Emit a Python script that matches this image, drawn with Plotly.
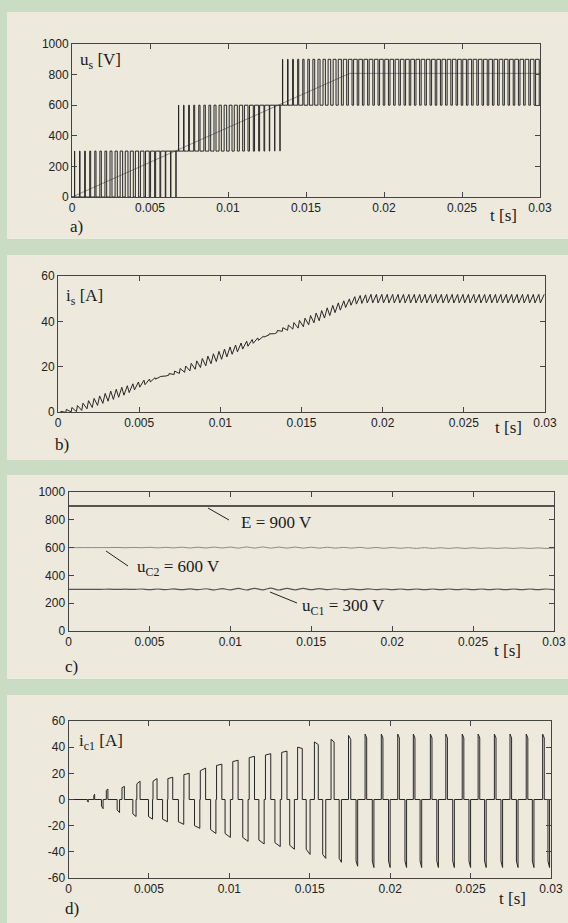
import plotly.graph_objects as go

W, H = 568, 923

# ---------------- data ----------------
tick_t = [0, 0.005, 0.01, 0.015, 0.02, 0.025, 0.03]
tick_t_text = ["0", "0.005", "0.01", "0.015", "0.02", "0.025", "0.03"]

# a) output voltage u_s : 3 kHz PWM, band limits and duty per period
us_period = 1 / 3000
us_band_start = [0, 20, 40]          # first period index of each band
us_band_low = [0, 300, 600]          # lower level of each band [V]
us_step = 300
us_duty = [0.03, 0.08, 0.13, 0.18, 0.23, 0.28, 0.33, 0.38, 0.43, 0.48,
           0.53, 0.58, 0.63, 0.68, 0.73, 0.78, 0.83, 0.88, 0.94, 0.99,
           0.04, 0.09, 0.14, 0.19, 0.24, 0.29, 0.34, 0.39, 0.44, 0.49,
           0.54, 0.59, 0.64, 0.69, 0.74, 0.79, 0.84, 0.89, 0.95, 1.00,
           0.05, 0.10, 0.15, 0.20, 0.25, 0.30, 0.35, 0.40, 0.45, 0.50,
           0.55, 0.60, 0.65, 0.70, 0.70, 0.70, 0.70, 0.70, 0.70, 0.70,
           0.70, 0.70, 0.70, 0.70, 0.70, 0.70, 0.70, 0.70, 0.70, 0.70,
           0.70, 0.70, 0.70, 0.70, 0.70, 0.70, 0.70, 0.70, 0.70, 0.70,
           0.70, 0.70, 0.70, 0.70, 0.70, 0.70, 0.70, 0.70, 0.70, 0.70]
us_ref_t = [0, 0.0178, 0.03]
us_ref_v = [0, 808, 808]

# b) current i_s : mean value and ripple (peak-peak) per PWM period [A]
is_mean = [0.0, 0.5, 1.0, 1.5, 2.3, 3.2, 4.0, 5.0, 6.0, 7.0,
           7.8, 8.7, 9.5, 10.5, 11.5, 12.5, 13.3, 14.2, 15.0, 15.8,
           16.6, 17.3, 18.1, 18.9, 19.8, 20.7, 21.6, 22.5, 23.5, 24.5,
           25.5, 26.5, 27.5, 28.5, 29.5, 30.5, 31.5, 32.5, 33.5, 34.5,
           35.5, 36.4, 37.2, 38.0, 38.7, 39.5, 40.5, 41.5, 42.5, 43.7,
           44.8, 46.0, 47.0, 48.0, 49.0, 49.5, 49.8, 50.0, 50.0, 50.0,
           50.0, 50.0, 50.0, 50.0, 50.0, 50.0, 50.0, 50.0, 50.0, 50.0,
           50.0, 50.0, 50.0, 50.0, 50.0, 50.0, 50.0, 50.0, 50.0, 50.0,
           50.0, 50.0, 50.0, 50.0, 50.0, 50.0, 50.0, 50.0, 50.0, 50.0]
is_ripple = [0.5, 1.3, 2.0, 2.7, 3.2, 3.6, 4.0, 4.2, 4.4, 4.5,
             4.5, 4.4, 4.2, 3.9, 3.5, 3.1, 2.5, 1.9, 1.0, 0.2,
             0.7, 1.5, 2.2, 2.8, 3.3, 3.7, 4.0, 4.3, 4.4, 4.5,
             4.5, 4.4, 4.1, 3.9, 3.5, 3.0, 2.4, 1.8, 0.9, 0.1,
             0.9, 1.6, 2.3, 2.9, 3.4, 3.8, 4.1, 4.3, 4.5, 4.5,
             4.5, 4.3, 4.1, 3.8, 3.8, 3.8, 3.8, 3.8, 3.8, 3.8,
             3.8, 3.8, 3.8, 3.8, 3.8, 3.8, 3.8, 3.8, 3.8, 3.8,
             3.8, 3.8, 3.8, 3.8, 3.8, 3.8, 3.8, 3.8, 3.8, 3.8,
             3.8, 3.8, 3.8, 3.8, 3.8, 3.8, 3.8, 3.8, 3.8, 3.8]

# c) capacitor voltages, sampled every 0.5 ms [V]
uc_t_step = 0.0005
E_t = [0, 0.03]
E_v = [900, 900]
uC2 = [600, 600, 600, 600, 600, 600, 601, 599, 601, 599,
       602, 598, 602, 598, 603, 597, 603, 597, 604, 597,
       604, 596, 605, 596, 605, 596, 604, 596, 604, 596,
       603, 596, 603, 596, 602, 596, 602, 595, 601, 595,
       601, 595, 600, 594, 600, 594, 599, 594, 599, 594,
       599, 594, 598, 594, 598, 594, 598, 594, 598, 594, 597]
uC1 = [300, 300, 300, 300, 300, 301, 299, 301, 299, 302,
       298, 302, 298, 303, 297, 303, 297, 304, 296, 305,
       296, 306, 295, 307, 296, 308, 295, 307, 296, 306,
       297, 305, 297, 304, 297, 303, 297, 303, 298, 302,
       298, 302, 298, 302, 298, 302, 298, 302, 298, 302,
       298, 302, 298, 302, 298, 302, 298, 302, 298, 302, 298]

# d) capacitor current i_c1 : pulses (centre [ms], width [ms], level [A])
ic1_pos_c = [1.6, 2.4, 3.4, 4.35, 5.38, 6.33, 7.34, 8.36, 9.37, 10.38,
             11.40, 12.41, 13.42, 14.39, 15.41, 16.42, 17.48, 18.49, 19.50, 20.52,
             21.49, 22.55, 23.51, 24.53, 25.52, 26.53, 27.50, 28.51, 29.53]
ic1_pos_w = [0.05, 0.10, 0.15, 0.20, 0.25, 0.30, 0.33, 0.33, 0.33, 0.33,
             0.33, 0.33, 0.33, 0.29, 0.24, 0.19, 0.14, 0.10, 0.10, 0.10,
             0.10, 0.10, 0.10, 0.10, 0.10, 0.10, 0.10, 0.10, 0.10]
ic1_pos_a0 = [3, 7, 9, 12, 14, 16, 19, 22, 26, 29,
              32, 34, 36, 40, 44, 46, 49, 50, 50, 50,
              50, 50, 50, 50, 50, 50, 50, 50, 50]
ic1_pos_a1 = [4, 8, 10, 14, 16, 17, 20, 24, 27, 30,
              33, 35, 37, 39, 42, 44, 46, 47, 47, 47,
              47, 47, 47, 47, 47, 47, 47, 47, 47]
ic1_neg_c = [1.2, 2.1, 3.1, 4.1, 5.1, 6.0, 7.0, 8.0, 9.0, 9.9,
             11.0, 12.0, 13.0, 13.9, 14.9, 15.9, 16.9, 17.93, 18.94, 19.95,
             20.97, 21.91, 22.95, 23.94, 24.95, 25.92, 26.94, 27.90, 28.89, 29.86]
ic1_neg_w = [0.05, 0.10, 0.15, 0.20, 0.25, 0.30, 0.33, 0.33, 0.33, 0.33,
             0.33, 0.33, 0.33, 0.29, 0.24, 0.19, 0.14, 0.10, 0.10, 0.10,
             0.10, 0.10, 0.10, 0.10, 0.10, 0.10, 0.10, 0.10, 0.10, 0.10]
ic1_neg_a0 = [-1, -5, -8, -11, -13, -15, -17, -20, -23, -26,
              -29, -31, -33, -35, -38, -42, -45, -47, -47, -47,
              -47, -47, -47, -47, -47, -47, -47, -47, -47, -47]
ic1_neg_a1 = [-2, -7, -10, -13, -15, -17, -19, -22, -26, -29,
              -32, -34, -36, -38, -42, -45, -48, -51, -52, -52,
              -52, -52, -52, -52, -52, -52, -52, -52, -52, -52]

# ---------------- build traces ----------------
n_per = len(us_duty)
us_low = []
for k in range(n_per):
    lvl = us_band_low[0]
    for s, l in zip(us_band_start, us_band_low):
        if k >= s:
            lvl = l
    us_low.append(lvl)

xa, ya = [], []
for k in range(n_per):
    t0 = k * us_period
    d = us_duty[k]
    L = us_low[k]
    xa += [t0, t0 + (1 - d) / 2 * us_period, t0 + (1 + d) / 2 * us_period]
    ya += [L, L + us_step, L]
xa.append(0.03)
ya.append(us_low[-1])

xb, yb = [], []
for k in range(n_per):
    t0 = k * us_period
    d = us_duty[k]
    xb += [t0 + (1 - d) / 2 * us_period, t0 + (1 + d) / 2 * us_period]
    yb += [is_mean[k] - is_ripple[k] / 2, is_mean[k] + is_ripple[k] / 2]

tc = [i * uc_t_step for i in range(len(uC1))]

pulses = []
for c, w, a0, a1 in zip(ic1_pos_c, ic1_pos_w, ic1_pos_a0, ic1_pos_a1):
    pulses.append((c - w / 2, c + w / 2, a0, a1))
for c, w, a0, a1 in zip(ic1_neg_c, ic1_neg_w, ic1_neg_a0, ic1_neg_a1):
    pulses.append((c - w / 2, c + w / 2, a0, a1))
pulses.sort()
xd, yd = [0.0], [0.0]
for ts, te, a0, a1 in pulses:
    xd += [ts / 1000, ts / 1000, te / 1000, te / 1000]
    yd += [0, a0, a1, 0]
xd.append(0.03)
yd.append(0)

fig = go.Figure()
ink = "#262626"
fig.add_trace(go.Scatter(x=us_ref_t, y=us_ref_v, mode="lines",
                         line=dict(color="#8c8c8c", width=1), xaxis="x", yaxis="y"))
fig.add_trace(go.Scatter(x=xa, y=ya, mode="lines", line_shape="hv",
                         line=dict(color=ink, width=1), xaxis="x", yaxis="y"))
fig.add_trace(go.Scatter(x=xb, y=yb, mode="lines",
                         line=dict(color=ink, width=1), xaxis="x2", yaxis="y2"))
fig.add_trace(go.Scatter(x=E_t, y=E_v, mode="lines",
                         line=dict(color="#222222", width=1.5), xaxis="x3", yaxis="y3"))
fig.add_trace(go.Scatter(x=tc, y=uC2, mode="lines", line_shape="spline",
                         line=dict(color="#8a8a8a", width=1), xaxis="x3", yaxis="y3"))
fig.add_trace(go.Scatter(x=tc, y=uC1, mode="lines", line_shape="spline",
                         line=dict(color="#555555", width=1.2), xaxis="x3", yaxis="y3"))
fig.add_trace(go.Scatter(x=xd, y=yd, mode="lines",
                         line=dict(color=ink, width=1), xaxis="x4", yaxis="y4"))

# ---------------- layout ----------------
def dx(p0, p1):
    return [p0 / W, p1 / W]

def dy(top, bottom):
    return [1 - bottom / H, 1 - top / H]

tickfont = dict(family="Liberation Sans, Arial, sans-serif", size=12, color="#222")
axcommon = dict(showline=True, mirror="ticks", linecolor="#444", linewidth=1,
                ticks="inside", ticklen=5, tickcolor="#444", showgrid=False,
                zeroline=False, tickfont=tickfont, automargin=False)

panels = [
    ("", dx(72, 540), dy(44, 197), [0, 1000], [0, 200, 400, 600, 800, 1000]),
    ("2", dx(58, 545), dy(276, 412), [0, 60], [0, 20, 40, 60]),
    ("3", dx(68.5, 554), dy(492, 631), [0, 1000], [0, 200, 400, 600, 800, 1000]),
    ("4", dx(68.5, 551), dy(721, 878), [-60, 60], [-60, -40, -20, 0, 20, 40, 60]),
]
lay = {}
for sfx, xd_, yd_, yr, yt in panels:
    lay["xaxis" + sfx] = dict(domain=xd_, range=[0, 0.03], anchor="y" + sfx,
                              tickvals=tick_t, ticktext=tick_t_text, **axcommon)
    lay["yaxis" + sfx] = dict(domain=yd_, range=yr, anchor="x" + sfx,
                              tickvals=yt, ticktext=[str(v) for v in yt], **axcommon)
fig.update_layout(**lay)

green = "#cadcc3"
beige = "#ede9dd"
shapes = []
for top, bot in [(12, 239), (255, 460), (475, 679), (695, 923)]:
    shapes.append(dict(type="rect", xref="paper", yref="paper", layer="below",
                       x0=7 / W, x1=1, y0=1 - bot / H, y1=1 - top / H,
                       fillcolor=beige, line=dict(width=0)))

def seg(x0, y0, x1, y1):
    return dict(type="line", xref="paper", yref="paper",
                x0=x0 / W, y0=1 - y0 / H, x1=x1 / W, y1=1 - y1 / H,
                line=dict(color="#222", width=1))

shapes += [seg(208, 508, 229, 520), seg(106, 551, 128, 566), seg(270, 592, 297, 603)]

serif = dict(family="Liberation Serif, Times New Roman, serif", size=17, color="#1a1a1a")

def txt(s, x, y, size=17):
    f = dict(serif)
    f["size"] = size
    return dict(text=s, xref="paper", yref="paper", x=x / W, y=1 - y / H,
                xanchor="left", yanchor="middle", showarrow=False, font=f)

annos = [
    txt("u<sub>s</sub> [V]", 78, 61),
    txt("a)", 68, 226),
    txt("t [s]", 488, 216),
    txt("i<sub>s</sub> [A]", 64, 297),
    txt("b)", 53, 445),
    txt("t [s]", 493, 428),
    txt("E = 900 V", 239, 522),
    txt("u<sub>C2</sub> = 600 V", 135, 568),
    txt("u<sub>C1</sub> = 300 V", 300, 607),
    txt("c)", 63, 666),
    txt("t [s]", 492, 650),
    txt("i<sub>c1</sub> [A]", 77, 742),
    txt("d)", 63, 908),
    txt("t [s]", 497, 898),
]

fig.update_layout(width=W, height=H,
                  margin=dict(l=0, r=0, t=0, b=0, pad=0, autoexpand=False),
                  paper_bgcolor=green, plot_bgcolor="rgba(0,0,0,0)",
                  showlegend=False, shapes=shapes, annotations=annos)

fig.write_html("out.html", config={"displayModeBar": False},
               post_script="document.body.style.margin='0px';"
                           "document.body.style.padding='0px';"
                           "document.body.style.background='" + green + "';"
                           "document.documentElement.style.overflow='hidden';")
